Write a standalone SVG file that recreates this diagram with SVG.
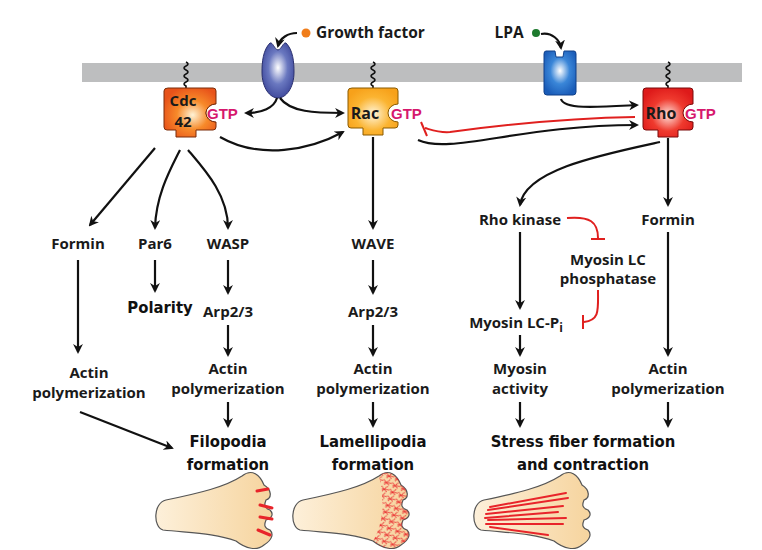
<svg xmlns="http://www.w3.org/2000/svg" width="762" height="550" viewBox="0 0 762 550">
<defs>
<style>
.t{font-family:"Open Sans","Liberation Sans",sans-serif;font-weight:bold;font-size:15px;fill:#1a1a1a;text-anchor:middle}
.h{font-family:"DejaVu Sans Condensed","Liberation Sans Narrow",sans-serif;font-weight:bold;font-size:16.5px;fill:#111;text-anchor:middle}
.g{font-family:"Liberation Sans",sans-serif;font-weight:bold;font-size:15px;fill:#d6186d}
.ln{fill:none;stroke:#111;stroke-width:2.2}
.rd{fill:none;stroke:#e0201f;stroke-width:2}
.sq{fill:none;stroke:#111;stroke-width:1.6}
.cell{fill:url(#cg);stroke:#555;stroke-width:1.2}
</style>
<marker id="a" viewBox="0 0 10 10" refX="8" refY="5" markerWidth="4.5" markerHeight="4.5" orient="auto"><path d="M0,0 L10,5 L0,10 L3,5 Z" fill="#111"/></marker>
<radialGradient id="og" cx="0.55" cy="0.55" r="0.6"><stop offset="0" stop-color="#fff3d6"/><stop offset="0.5" stop-color="#f78a2a"/><stop offset="1" stop-color="#e8531a"/></radialGradient>
<radialGradient id="yg" cx="0.5" cy="0.55" r="0.6"><stop offset="0" stop-color="#fff6dc"/><stop offset="0.6" stop-color="#fbb431"/><stop offset="1" stop-color="#f7a11a"/></radialGradient>
<radialGradient id="rg" cx="0.5" cy="0.55" r="0.6"><stop offset="0" stop-color="#ffe3dc"/><stop offset="0.55" stop-color="#ef3a2e"/><stop offset="1" stop-color="#de1a1a"/></radialGradient>
<radialGradient id="bg" cx="0.5" cy="0.45" r="0.6"><stop offset="0" stop-color="#ffffff"/><stop offset="0.5" stop-color="#6a78c0"/><stop offset="1" stop-color="#3a4498"/></radialGradient>
<radialGradient id="bg2" cx="0.5" cy="0.45" r="0.6"><stop offset="0" stop-color="#ffffff"/><stop offset="0.5" stop-color="#3a86d8"/><stop offset="1" stop-color="#1a5cb8"/></radialGradient>
<linearGradient id="cg" x1="0" y1="0" x2="1" y2="0"><stop offset="0" stop-color="#fdf0da"/><stop offset="1" stop-color="#f6d49e"/></linearGradient>
<pattern id="mesh" width="9" height="7" patternUnits="userSpaceOnUse" patternTransform="rotate(20)"><path d="M0,2 L7,6 M2,7 L6,0 M1,5 L9,3" stroke="#e8242a" stroke-width="0.8"/></pattern>
<path id="cellp" d="M166,500 C200,493 225,487 242,476 C252,468 260,475 264,485 C272,490 272,498 266,500 C264,505 264,508 270,510 C274,514 272,518 266,520 C264,525 264,528 270,530 C274,534 272,540 264,545 C257,551 246,549 236,541 C215,533 190,533 163,530 C153,527 153,503 166,500 Z"/>
</defs>
<rect x="82" y="63" width="660" height="19" fill="#bdbebf"/>
<g id="squiggles" class="sq">
<path d="M186,62 q4,2 0,4 q-4,2 0,4 q4,2 0,4 q-4,2 0,4 q4,2 0,4 q-4,2 0,4 l0,6"/>
<path d="M373,62 q4,2 0,4 q-4,2 0,4 q4,2 0,4 q-4,2 0,4 q4,2 0,4 q-4,2 0,4 l0,6"/>
<path d="M668,62 q4,2 0,4 q-4,2 0,4 q4,2 0,4 q-4,2 0,4 q4,2 0,4 q-4,2 0,4 l0,6"/>
</g>
<g id="gf-receptor">
<path d="M270,43 C263,50 262,62 262,72 C262,88 270,98 278,98 C286,98 294,88 294,72 C294,62 293,50 286,43 C283,42 282,49 278,50 C274,49 273,42 270,43 Z" fill="url(#bg)" stroke="#2a3070" stroke-width="1"/>
<circle cx="306" cy="33" r="4.5" fill="#f07d1a"/>
<text x="316" y="38" class="t" style="text-anchor:start;font-size:15.5px">Growth factor</text>
</g>
<g id="lpa-receptor">
<path d="M546,51 L555,51 L556,57 L563,57 L564,51 L574,51 Q576,51 576,54 L576,92 Q576,95 573,95 L547,95 Q544,95 544,92 L544,54 Q544,51 546,51 Z" fill="url(#bg2)" stroke="#10408a" stroke-width="1"/>
<circle cx="536" cy="33" r="4" fill="#1d7a2e"/>
<text x="509" y="38" class="t" style="font-size:15.5px">LPA</text>
</g>
<g id="cdc42">
<path d="M168,88 L213,88 Q216,88 216,91 L216,104 A10,9 0 0 0 216,122 L216,127 Q216,130 213,130 L196,130 L196,137 L176,137 L176,130 L167,130 Q164,130 164,127 L164,91 Q164,88 168,88 Z" fill="url(#og)" stroke="#7a2d0a" stroke-width="1"/>
<text x="183" y="106" class="t" style="font-size:15px">Cdc</text>
<text x="183" y="127" class="t" style="font-size:15px">42</text>
<path d="M216,104 A10,9 0 0 0 216,122" fill="#fff" stroke="#7a2d0a"/>
<text x="207" y="119" class="g">GTP</text>
</g>
<g id="rac">
<path d="M352,88 L395,88 Q398,88 398,91 L398,104 A10,9 0 0 0 398,122 L398,125 Q398,128 395,128 L383,128 L383,135 L363,135 L363,128 L351,128 Q348,128 348,125 L348,91 Q348,88 352,88 Z" fill="url(#yg)" stroke="#8a5a00" stroke-width="1"/>
<text x="365" y="119" class="t" style="font-size:16px">Rac</text>
<text x="391" y="119" class="g">GTP</text>
</g>
<g id="rho">
<path d="M646,88 L690,88 Q693,88 693,91 L693,104 A10,9 0 0 0 693,122 L693,127 Q693,130 690,130 L678,130 L678,137 L658,137 L658,130 L646,130 Q643,130 643,127 L643,91 Q643,88 646,88 Z" fill="url(#rg)" stroke="#7a0a0a" stroke-width="1"/>
<text x="661" y="119" class="t" style="font-size:16px">Rho</text>
<text x="685" y="119" class="g">GTP</text>
</g>
<g id="connectors">
<path class="ln" marker-end="url(#a)" d="M297,33 C288,33 280,38 278,46"/>
<path class="ln" marker-end="url(#a)" d="M541,34 C552,32 560,40 561,48"/>
<path class="ln" marker-end="url(#a)" d="M277,98 C274,108 262,113 246,113"/>
<path class="ln" marker-end="url(#a)" d="M280,98 C290,112 315,113 343,113"/>
<path class="ln" marker-end="url(#a)" d="M220,137 C260,160 310,150 343,132"/>
<path class="ln" marker-end="url(#a)" d="M561,99 C564,110 600,107 637,105"/>
<path class="ln" marker-end="url(#a)" d="M418,140 C450,155 520,125 637,125"/>
<path class="rd" d="M635,117 C560,118 480,128 450,132 C440,133 432,130 425,128"/>
<path class="rd" d="M421,122 L427,136"/>
<path class="ln" marker-end="url(#a)" d="M155,148 L90,225"/>
<path class="ln" marker-end="url(#a)" d="M180,150 C170,170 156,195 155,228"/>
<path class="ln" marker-end="url(#a)" d="M188,150 C205,170 228,195 228,228"/>
<path class="ln" marker-end="url(#a)" d="M78,260 L78,352"/>
<path class="ln" marker-end="url(#a)" d="M155,260 L155,291"/>
<path class="ln" marker-end="url(#a)" d="M228,260 L228,293"/>
<path class="ln" marker-end="url(#a)" d="M228,325 L228,355"/>
<path class="ln" marker-end="url(#a)" d="M228,402 L228,426"/>
<path class="ln" marker-end="url(#a)" d="M80,412 L172,448"/>
<path class="ln" marker-end="url(#a)" d="M373,137 L373,228"/>
<path class="ln" marker-end="url(#a)" d="M373,260 L373,293"/>
<path class="ln" marker-end="url(#a)" d="M373,325 L373,355"/>
<path class="ln" marker-end="url(#a)" d="M373,402 L373,426"/>
<path class="ln" marker-end="url(#a)" d="M660,142 C600,155 525,170 520,205"/>
<path class="ln" marker-end="url(#a)" d="M668,138 L668,205"/>
<path class="ln" marker-end="url(#a)" d="M520,232 L520,308"/>
<path class="ln" marker-end="url(#a)" d="M520,335 L520,355"/>
<path class="ln" marker-end="url(#a)" d="M520,402 L520,426"/>
<path class="ln" marker-end="url(#a)" d="M668,232 L668,355"/>
<path class="ln" marker-end="url(#a)" d="M668,402 L668,426"/>
<path class="rd" d="M567,218 C590,216 598,222 598,238"/>
<path class="rd" d="M591,239 L605,239"/>
<path class="rd" d="M598,290 C598,310 600,320 584,322"/>
<path class="rd" d="M583,315 L583,329"/>
</g>
<g id="labels">
<text x="78" y="249" class="t">Formin</text>
<text x="155" y="249" class="t">Par6</text>
<text x="160" y="313" class="h">Polarity</text>
<text x="228" y="249" class="t">WASP</text>
<text x="228" y="317" class="t">Arp2/3</text>
<text x="89" y="378" class="t">Actin</text>
<text x="89" y="398" class="t">polymerization</text>
<text x="228" y="374" class="t">Actin</text>
<text x="228" y="394" class="t">polymerization</text>
<text x="228" y="447" class="h">Filopodia</text>
<text x="228" y="470" class="h">formation</text>
<text x="373" y="249" class="t">WAVE</text>
<text x="373" y="317" class="t">Arp2/3</text>
<text x="373" y="374" class="t">Actin</text>
<text x="373" y="394" class="t">polymerization</text>
<text x="373" y="447" class="h">Lamellipodia</text>
<text x="373" y="470" class="h">formation</text>
<text x="520" y="225" class="t">Rho kinase</text>
<text x="668" y="225" class="t">Formin</text>
<text x="608" y="265" class="t">Myosin LC</text>
<text x="608" y="284" class="t">phosphatase</text>
<text x="516" y="328" class="t">Myosin LC-P<tspan font-size="12" dy="4">i</tspan></text>
<text x="520" y="374" class="t">Myosin</text>
<text x="520" y="394" class="t">activity</text>
<text x="668" y="374" class="t">Actin</text>
<text x="668" y="394" class="t">polymerization</text>
<text x="583" y="447" class="h">Stress fiber formation</text>
<text x="583" y="470" class="h">and contraction</text>
</g>
<g id="cell-filopodia">
<use href="#cellp" class="cell"/>
<g stroke="#e8242a" stroke-width="3" stroke-linecap="round">
<path d="M257,491 L268,489"/><path d="M260,505 L272,508"/><path d="M260,517 L272,519"/><path d="M258,530 L270,535"/>
</g>
</g>
<g id="cell-lamellipodia" transform="translate(137,0)">
<use href="#cellp" class="cell"/>
<path d="M242,476 C252,468 260,475 264,485 C272,490 272,498 266,500 C264,505 264,508 270,510 C274,514 272,518 266,520 C264,525 264,528 270,530 C274,534 272,540 264,545 C257,551 246,549 236,541 C246,525 248,500 242,476 Z" fill="url(#mesh)"/>
</g>
<g id="cell-stress" transform="translate(318,0)">
<use href="#cellp" class="cell"/>
<g stroke="#e8242a" stroke-width="2" stroke-linecap="round" fill="none">
<path d="M172,507 L248,493"/><path d="M170,510 L250,498"/><path d="M168,514 L245,506"/><path d="M167,518 L240,512"/><path d="M170,520 L248,518"/><path d="M168,524 L245,524"/><path d="M172,527 L230,535"/>
</g>
</g>
</svg>
